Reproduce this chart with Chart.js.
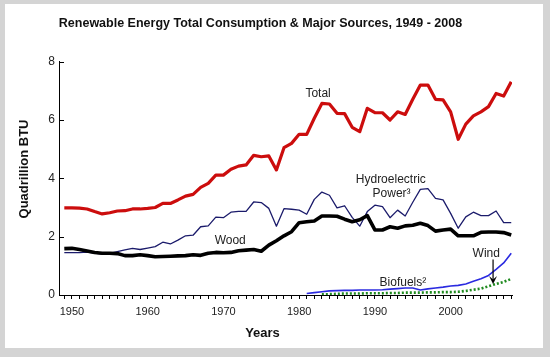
<!DOCTYPE html>
<html><head><meta charset="utf-8">
<script src="https://cdn.jsdelivr.net/npm/chart.js@4.4.1/dist/chart.umd.min.js"></script>
<style>
html,body{margin:0;padding:0;background:#d4d4d4;width:550px;height:357px;overflow:hidden;}
#frame{position:absolute;left:5px;top:4px;width:538px;height:344px;background:#fff;}
#wrap{position:absolute;left:0;top:0;width:550px;height:357px;}
</style></head><body>
<div id="frame"></div>
<div id="wrap"><canvas id="c" width="550" height="357"></canvas></div>
<script>
// ---- data ----
const years = [1949,1950,1951,1952,1953,1954,1955,1956,1957,1958,
               1959,1960,1961,1962,1963,1964,1965,1966,1967,1968,
               1969,1970,1971,1972,1973,1974,1975,1976,1977,1978,
               1979,1980,1981,1982,1983,1984,1985,1986,1987,1988,
               1989,1990,1991,1992,1993,1994,1995,1996,1997,1998,
               1999,2000,2001,2002,2003,2004,2005,2006,2007,2008];
const total = [2.99,2.99,2.98,2.95,2.86,2.78,2.82,2.88,2.89,2.95,
               2.95,2.97,3.00,3.14,3.14,3.26,3.39,3.45,3.69,3.83,
               4.11,4.11,4.31,4.42,4.46,4.79,4.74,4.77,4.29,5.05,
               5.20,5.51,5.51,6.06,6.57,6.55,6.23,6.22,5.75,5.60,
               6.40,6.25,6.25,6.00,6.28,6.19,6.71,7.20,7.20,6.71,
               6.69,6.28,5.34,5.86,6.14,6.28,6.46,6.91,6.82,7.31];
const hydro = [1.45,1.45,1.45,1.47,1.44,1.40,1.43,1.49,1.55,1.60,
               1.56,1.61,1.66,1.81,1.75,1.88,2.03,2.05,2.34,2.37,
               2.67,2.65,2.84,2.87,2.87,3.19,3.17,2.97,2.36,2.96,
               2.94,2.91,2.77,3.28,3.53,3.42,2.99,3.06,2.66,2.36,
               2.86,3.08,3.03,2.65,2.91,2.71,3.18,3.62,3.65,3.31,
               3.26,2.80,2.29,2.68,2.84,2.72,2.72,2.88,2.48,2.48];
const wood  = [1.59,1.60,1.56,1.51,1.46,1.43,1.43,1.42,1.35,1.35,
               1.38,1.35,1.31,1.32,1.33,1.34,1.35,1.38,1.36,1.43,
               1.46,1.45,1.46,1.52,1.54,1.56,1.50,1.71,1.86,2.03,
               2.17,2.48,2.51,2.54,2.71,2.71,2.70,2.60,2.51,2.58,
               2.72,2.23,2.23,2.34,2.29,2.37,2.39,2.46,2.38,2.19,
               2.23,2.26,2.03,2.03,2.03,2.15,2.16,2.16,2.14,2.06];
const biofuelYears = [1981,1982,1983,1984,1985,1986,1987,1988,1989,1990,
                      1991,1992,1993,1994,1995,1996,1997,1998,1999,2000,
                      2001,2002,2003,2004,2005,2006,2007,2008];
const biofuels = [0.05,0.08,0.11,0.14,0.15,0.16,0.16,0.17,0.17,0.17,
                  0.18,0.20,0.22,0.24,0.24,0.17,0.21,0.24,0.27,0.31,
                  0.33,0.38,0.47,0.56,0.67,0.88,1.10,1.43];
const windYears = [1983,1984,1985,1986,1987,1988,1989,1990,1991,1992,
                   1993,1994,1995,1996,1997,1998,1999,2000,2001,2002,
                   2003,2004,2005,2006,2007,2008];
const wind = [0.02,0.03,0.04,0.05,0.05,0.05,0.06,0.06,0.06,0.07,
              0.07,0.08,0.08,0.08,0.09,0.09,0.10,0.10,0.11,0.14,
              0.18,0.22,0.30,0.38,0.45,0.55];
const xTickLabels = [1950,1960,1970,1980,1990,2000];
const yTicks = [0,2,4,6,8];

const FONT = '"Liberation Sans", Arial, sans-serif';
const pts = (xs, ys) => xs.map((x, i) => ({x: x, y: ys[i]}));

// text annotations placed in data coordinates
const notes = [
  {text:'Total', x:1982.5, y:6.91},
  {text:'Hydroelectric', x:1992.1, y:3.94},
  {text:'Power\u00B3', x:1992.2, y:3.46},
  {text:'Wood', x:1970.9, y:1.86},
  {text:'Wind', x:2004.7, y:1.43},
  {text:'Biofuels\u00B2', x:1993.7, y:0.42}
];

const overlay = {
  id: 'overlay',
  afterDraw(chart) {
    const ctx = chart.ctx, xs = chart.scales.x, ys = chart.scales.y;
    ctx.save();
    // inward y ticks
    ctx.strokeStyle = '#000'; ctx.lineWidth = 1;
    ys.ticks.forEach(t => {
      const py = Math.round(ys.getPixelForValue(t.value)) + 0.5;
      ctx.beginPath(); ctx.moveTo(xs.left, py); ctx.lineTo(xs.left + 5, py); ctx.stroke();
    });
    // axis titles
    ctx.fillStyle = '#111';
    ctx.font = 'bold 13px ' + FONT;
    ctx.textAlign = 'center'; ctx.textBaseline = 'middle';
    ctx.fillText('Years', 262.5, 333);
    ctx.save(); ctx.translate(24, 169); ctx.rotate(-Math.PI / 2);
    ctx.fillText('Quadrillion BTU', 0, 0); ctx.restore();
    // in-plot labels
    ctx.font = '12px ' + FONT; ctx.fillStyle = '#222';
    notes.forEach(n => ctx.fillText(n.text, xs.getPixelForValue(n.x), ys.getPixelForValue(n.y)));
    // wind arrow
    const ax = xs.getPixelForValue(2005.6);
    const a0 = ys.getPixelForValue(1.22), a1 = ys.getPixelForValue(0.38);
    ctx.strokeStyle = '#000'; ctx.lineWidth = 1.2;
    ctx.beginPath(); ctx.moveTo(ax, a0); ctx.lineTo(ax, a1 - 4); ctx.stroke();
    ctx.fillStyle = '#000';
    ctx.beginPath(); ctx.moveTo(ax - 4, a1 - 8); ctx.lineTo(ax, a1 - 4.5); ctx.lineTo(ax + 4, a1 - 8); ctx.lineTo(ax, a1); ctx.closePath(); ctx.fill();
    ctx.restore();
  }
};

new Chart(document.getElementById('c'), {
  type: 'line',
  data: {
    datasets: [
      {label:'Total', data: pts(years, total), borderColor:'#cc0d0d', borderWidth:3.2},
      {label:'Wood', data: pts(years, wood), borderColor:'#000000', borderWidth:3.6},
      {label:'Hydroelectric Power', data: pts(years, hydro), borderColor:'#1b1b6b', borderWidth:1.3},
      {label:'Biofuels', data: pts(biofuelYears, biofuels), borderColor:'#2a2ae0', borderWidth:1.6},
      {label:'Wind', data: pts(windYears, wind), borderColor:'#1f8a1f', borderWidth:2.6, borderDash:[2,2]}
    ]
  },
  options: {
    responsive: false,
    animation: false,
    devicePixelRatio: 1,
    layout: {padding: {left: 9, right: 38, top: 0, bottom: 0}},
    elements: {point: {radius: 0}, line: {tension: 0, fill: false, borderJoinStyle: 'round', borderCapStyle: 'butt'}},
    plugins: {
      legend: {display: false},
      tooltip: {enabled: false},
      title: {
        display: true,
        text: 'Renewable Energy Total Consumption & Major Sources, 1949 - 2008',
        color: '#111',
        font: {family: FONT, size: 12.5, weight: 'bold'},
        padding: {top: 16.3, bottom: 30.4}
      }
    },
    scales: {
      x: {
        type: 'linear', min: 1948.3, max: 2008.1,
        afterBuildTicks: s => { s.ticks = years.map(v => ({value: v})); },
        afterFit: s => { s.height = 62; },
        grid: {display: true, drawOnChartArea: false, drawTicks: true, tickLength: 4, color: '#000', tickColor: '#000', tickWidth: 1},
        border: {display: true, color: '#000', width: 1},
        ticks: {autoSkip: false, maxRotation: 0, padding: 6, color: '#222',
                font: {family: FONT, size: 11},
                callback: v => xTickLabels.includes(v) ? String(v) : ''}
      },
      y: {
        min: 0, max: 8,
        afterBuildTicks: s => { s.ticks = yTicks.map(v => ({value: v})); },
        afterFit: s => { s.width = 50; },
        grid: {display: false, drawTicks: false},
        border: {display: true, color: '#000', width: 1},
        ticks: {padding: 4, color: '#222', font: {family: FONT, size: 12}}
      }
    }
  },
  plugins: [overlay]
});
</script>
</body></html>
